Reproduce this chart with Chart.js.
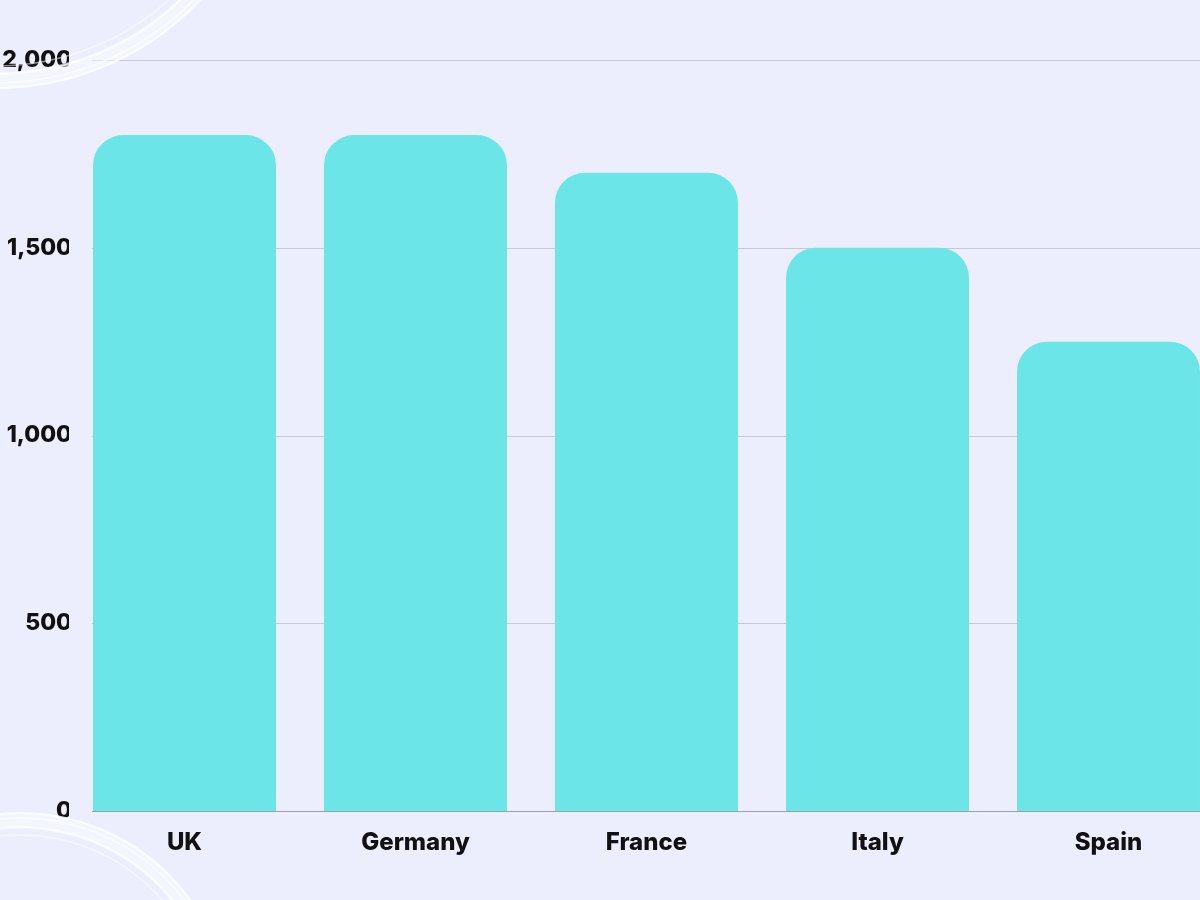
<!DOCTYPE html>
<html>
<head>
<meta charset="utf-8">
<script src="https://cdn.jsdelivr.net/npm/chart.js@4"></script>
<style>
  html, body { margin: 0; padding: 0; background: #ECEEFD; overflow: hidden; }
  #wrap { width: 1224px; height: 900px; }
</style>
</head>
<body>
<div id="wrap"><canvas id="chart" width="1224" height="900"></canvas></div>
<script>
// data
const countries = ['UK', 'Germany', 'France', 'Italy', 'Spain'];
const values = [1800, 1800, 1700, 1500, 1250];
const yTicks = [0, 500, 1000, 1500, 2000];

const BG = '#ECEEFD';
const BAR = '#6CE5E8';
const INK = '#111111';

// gridlines start at the left edge of the first bar, like the original
const gridFromBars = {
  id: 'gridFromBars',
  beforeDatasetsDraw(chart) {
    const ctx = chart.ctx;
    const y = chart.scales.y;
    const first = chart.getDatasetMeta(0).data[0];
    const x0 = first.x - first.width / 2 - 1;
    const x1 = chart.chartArea.right;
    ctx.save();
    y.ticks.forEach(t => {
      const py = Math.round(y.getPixelForValue(t.value)) + 0.5;
      ctx.strokeStyle = t.value === 0 ? '#9C9EAD' : '#C6C8D9';
      ctx.lineWidth = 1;
      ctx.beginPath();
      ctx.moveTo(x0, py);
      ctx.lineTo(x1, py);
      ctx.stroke();
    });
    ctx.restore();
  }
};

// soft white rings in the left corners
const rings = {
  id: 'rings',
  afterDraw(chart) {
    const ctx = chart.ctx;
    const ring = (cx, cy, r) => {
      ctx.strokeStyle = 'rgba(255,255,255,0.45)';
      ctx.lineWidth = 16;
      ctx.beginPath(); ctx.arc(cx, cy, r - 8, 0, Math.PI * 2); ctx.stroke();
      [[r, 2, 0.85], [r - 5, 1.5, 0.7], [r - 14, 2, 0.75], [r - 22, 1.5, 0.5]].forEach(([rr, w, a]) => {
        ctx.strokeStyle = 'rgba(255,255,255,' + a + ')';
        ctx.lineWidth = w;
        ctx.beginPath(); ctx.arc(cx, cy, rr, 0, Math.PI * 2); ctx.stroke();
      });
    };
    ctx.save();
    ring(-4, -193, 281);
    ring(20, 1023, 210);
    ctx.restore();
  }
};

new Chart(document.getElementById('chart'), {
  type: 'bar',
  data: {
    labels: countries,
    datasets: [{
      data: values,
      backgroundColor: BAR,
      borderRadius: { topLeft: 30, topRight: 30, bottomLeft: 0, bottomRight: 0 },
      borderSkipped: false,
      barPercentage: 0.792,
      categoryPercentage: 1.0
    }]
  },
  options: {
    responsive: false,
    devicePixelRatio: 1,
    animation: false,
    layout: { padding: { top: 60, left: 0, right: 0, bottom: 0 } },
    plugins: {
      legend: { display: false },
      tooltip: { enabled: false }
    },
    scales: {
      x: {
        grid: { display: false, drawTicks: false },
        border: { display: false },
        ticks: {
          color: INK,
          padding: 17,
          font: { family: 'Inter', size: 24, weight: '800' }
        },
        afterFit(scale) { scale.height = 89; }
      },
      y: {
        min: 0,
        max: 2000,
        afterBuildTicks(scale) { scale.ticks = yTicks.map(v => ({ value: v })); },
        grid: { display: false, drawTicks: false },
        border: { display: false },
        ticks: {
          color: INK,
          padding: -3,
          font: { family: 'Inter', size: 23, weight: '800' },
          callback: v => v.toLocaleString('en-US')
        },
        afterFit(scale) { scale.width = 69; }
      }
    }
  },
  plugins: [gridFromBars, rings,
    { id: 'bg', beforeDraw(c) { c.ctx.save(); c.ctx.fillStyle = BG; c.ctx.fillRect(0, 0, c.width, c.height); c.ctx.restore(); } }]
});
</script>
</body>
</html>
